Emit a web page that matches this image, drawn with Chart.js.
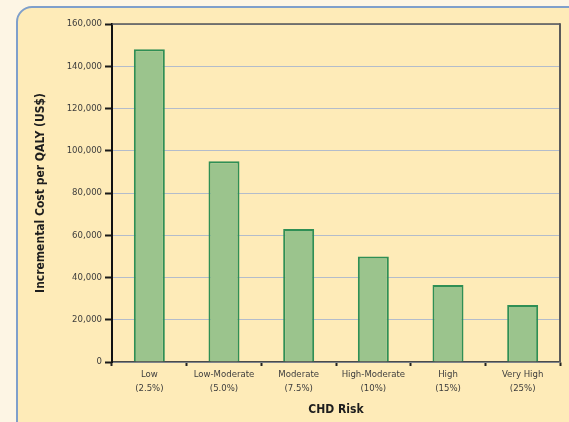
<!DOCTYPE html>
<html>
<head>
<meta charset="utf-8">
<script src="https://cdn.jsdelivr.net/npm/chart.js@4"></script>
<style>
  html, body { margin: 0; padding: 0; background: #fdf5e4; }
  #wrap { width: 569px; height: 422px; position: relative; }
</style>
</head>
<body>
<div id="wrap"><canvas id="c" width="569" height="422"></canvas></div>
<script>
// CHD risk groups (two-line labels) and incremental cost per QALY
const riskLabels = [
  ['Low', '(2.5%)'],
  ['Low-Moderate', '(5.0%)'],
  ['Moderate', '(7.5%)'],
  ['High-Moderate', '(10%)'],
  ['High', '(15%)'],
  ['Very High', '(25%)']
];
const costPerQaly = [148000, 95000, 63000, 50000, 36500, 27000];
const yTicks = [0, 20000, 40000, 60000, 80000, 100000, 120000, 140000, 160000];

const narrow = "'Liberation Sans Narrow', 'DejaVu Sans Condensed', 'Liberation Sans', sans-serif";

// Rounded cream panel behind the whole figure
const panelPlugin = {
  id: 'panel',
  beforeDraw(chart) {
    const ctx = chart.ctx;
    ctx.save();
    ctx.fillStyle = '#fdf5e4';
    ctx.fillRect(0, 0, chart.width, chart.height);
    const x = 17, y = 7, w = 570, h = 430, r = 15;
    ctx.beginPath();
    ctx.moveTo(x + r, y);
    ctx.lineTo(x + w, y);
    ctx.lineTo(x + w, y + h);
    ctx.lineTo(x, y + h);
    ctx.lineTo(x, y + r);
    ctx.arcTo(x, y, x + r, y, r);
    ctx.closePath();
    ctx.fillStyle = '#feebb8';
    ctx.fill();
    ctx.strokeStyle = '#7f9fcb';
    ctx.lineWidth = 2;
    ctx.stroke();
    ctx.restore();
  },
  afterDraw(chart) {
    // top and right edges of the plot frame
    const a = chart.chartArea, ctx = chart.ctx;
    ctx.save();
    ctx.strokeStyle = '#555555';
    ctx.lineWidth = 1.5;
    ctx.beginPath();
    ctx.moveTo(a.left, a.top);
    ctx.lineTo(a.right, a.top);
    ctx.stroke();
    ctx.lineWidth = 2;
    ctx.strokeStyle = '#5a5a5a';
    ctx.beginPath();
    ctx.moveTo(a.right, a.top - 0.75);
    ctx.lineTo(a.right, a.bottom);
    ctx.stroke();
    ctx.restore();
  }
};

new Chart(document.getElementById('c'), {
  type: 'bar',
  data: {
    labels: riskLabels,
    datasets: [{
      data: costPerQaly,
      backgroundColor: '#9bc48d',
      borderColor: '#2f8f55',
      borderWidth: 2,
      categoryPercentage: 1,
      barPercentage: 0.415
    }]
  },
  options: {
    responsive: false,
    animation: false,
    devicePixelRatio: 1,
    layout: { padding: { left: 0, top: 24, right: 9, bottom: 0 } },
    plugins: { legend: { display: false }, tooltip: { enabled: false } },
    scales: {
      x: {
        offset: true,
        afterFit(s) { s.height = 60; },
        border: { color: '#4a4a4a', width: 1.5 },
        grid: {
          offset: true,
          drawOnChartArea: false,
          tickLength: 4,
          tickColor: '#222222',
          tickWidth: 2
        },
        ticks: {
          color: '#3d3d3d',
          padding: 2,
          maxRotation: 0,
          autoSkip: false,
          font: { family: narrow, size: 9.5, lineHeight: 1.45 }
        },
        title: {
          display: true,
          text: 'CHD Risk',
          color: '#1e1e1e',
          padding: { top: 0, bottom: 5 },
          font: { family: narrow, size: 12, weight: 'bold', lineHeight: 1.2 }
        }
      },
      y: {
        min: 0,
        max: 160000,
        afterFit(s) { s.width = 112; },
        afterBuildTicks(s) { s.ticks = yTicks.map(v => ({ value: v })); },
        border: { color: '#111111', width: 2 },
        grid: {
          color: '#b3bccb',
          lineWidth: 1,
          tickLength: 7,
          tickColor: '#1a1a1a',
          tickWidth: 2
        },
        ticks: {
          color: '#3d3d3d',
          padding: 3,
          font: { family: narrow, size: 9.5 },
          callback: v => v.toLocaleString('en-US')
        },
        title: {
          display: true,
          text: 'Incremental Cost per QALY (US$)',
          color: '#1e1e1e',
          padding: { top: 34, bottom: 0 },
          font: { family: narrow, size: 12, weight: 'bold', lineHeight: 1.2 }
        }
      }
    }
  },
  plugins: [panelPlugin]
});
</script>
</body>
</html>
